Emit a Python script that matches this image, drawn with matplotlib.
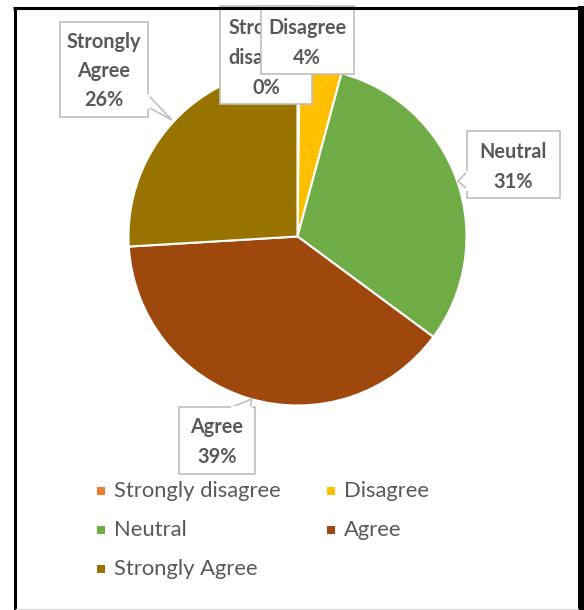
import matplotlib
matplotlib.use("Agg")
import matplotlib.pyplot as plt
from matplotlib.patches import Rectangle, Polygon

categories = ["Strongly disagree", "Disagree", "Neutral", "Agree", "Strongly Agree"]
values = [0.2, 4, 31, 39, 26]
pct_labels = ["0%", "4%", "31%", "39%", "26%"]
colors = ["#ED7D31", "#FFC000", "#70AD47", "#9E480E", "#997300"]

W, H = 584, 610
plt.rcParams['font.family'] = ['Lato', 'DejaVu Sans']
fig = plt.figure(figsize=(W / 100, H / 100), dpi=100)
ax = fig.add_axes([0, 0, 1, 1])

def Y(y):
    return H - y

cx, cy, r = 297.5, 236.5, 169
wedges, _ = ax.pie(values, colors=colors, startangle=90, counterclock=False,
                   center=(cx, Y(cy)), radius=r, frame=True,
                   wedgeprops=dict(edgecolor='white', linewidth=1.5))
ax.set_xlim(0, W)
ax.set_ylim(0, H)
ax.axis('off')

txt_col = '#595959'
box_col = '#BFBFBF'

def box(x0, y0, x1, y1, z, pointer=None):
    pts = [(x0, y0), (x1, y0), (x1, y1), (x0, y1)]
    ax.add_patch(Polygon([(x, Y(y)) for x, y in pts], closed=True, facecolor='white',
                         edgecolor=box_col, linewidth=1.2, zorder=z))
    if pointer is not None:
        ax.add_patch(Polygon([(x, Y(y)) for x, y in pointer], closed=True, facecolor='white',
                             edgecolor=box_col, linewidth=1.2, zorder=z))
        ax.plot([pointer[0][0], pointer[2][0]], [Y(pointer[0][1]), Y(pointer[2][1])],
                color='white', linewidth=2, zorder=z + 0.1)

def label(x, ys, lines, z, clip=None):
    for yy, t in zip(ys, lines):
        tx = ax.text(x, Y(yy), t, ha='center', va='center', fontsize=14.3, fontweight='bold',
                     color=txt_col, zorder=z + 0.2)
        if clip is not None:
            tx.set_clip_path(clip)

# Strongly Agree
box(60, 22, 148, 117, 5, pointer=[(148, 95), (172, 120), (148, 107)])
label(104, [42, 71, 100], ["Strongly", "Agree", pct_labels[4]], 5)
# Strongly disagree (partly hidden by the Disagree label)
box(220, 6, 312, 104, 6)
vis = Polygon([(x, Y(y)) for x, y in [(221, 7), (261, 7), (261, 75), (311, 75), (311, 103), (221, 103)]],
              closed=True, transform=ax.transData, facecolor='none', edgecolor='none')
ax.add_patch(vis)
label(266, [28, 58, 88], ["Strongly", "disagree", pct_labels[0]], 6, clip=vis)
# Disagree
box(261, 6, 354, 74, 8)
label(307, [28, 58], [categories[1], pct_labels[1]], 8)
# Neutral
box(467, 131, 560, 198, 5, pointer=[(467, 172), (458, 181), (467, 189)])
label(513, [152, 182], [categories[2], pct_labels[2]], 5)
# Agree
box(179, 407, 255, 474, 5, pointer=[(232, 407), (252, 399), (250, 407)])
label(217, [427, 457], [categories[3], pct_labels[3]], 5)

# Legend
leg_pos = [(101, 491), (331, 491), (101, 530), (331, 530), (101, 569)]
for (lx, ly), c, t in zip(leg_pos, colors, categories):
    ax.add_patch(Rectangle((lx - 4, Y(ly) - 4), 8, 8, facecolor=c, edgecolor='none', zorder=5))
    ax.text(lx + 13, Y(ly), t, ha='left', va='center', fontsize=15.8, color=txt_col, zorder=5)

# Frame
ax.plot([14.5, 14.5], [Y(610), Y(7.5)], color='black', linewidth=2.2, solid_capstyle='butt', zorder=10)
ax.plot([13, 581], [Y(7.5), Y(7.5)], color='black', linewidth=2.2, solid_capstyle='butt', zorder=10)
ax.plot([581, 581], [Y(6), Y(610)], color='black', linewidth=4.3, solid_capstyle='butt', zorder=10)
ax.plot([16, 578], [Y(608.5), Y(608.5)], color='#D9D9D9', linewidth=1.0, zorder=10)

fig.savefig("out.png", dpi=100)
